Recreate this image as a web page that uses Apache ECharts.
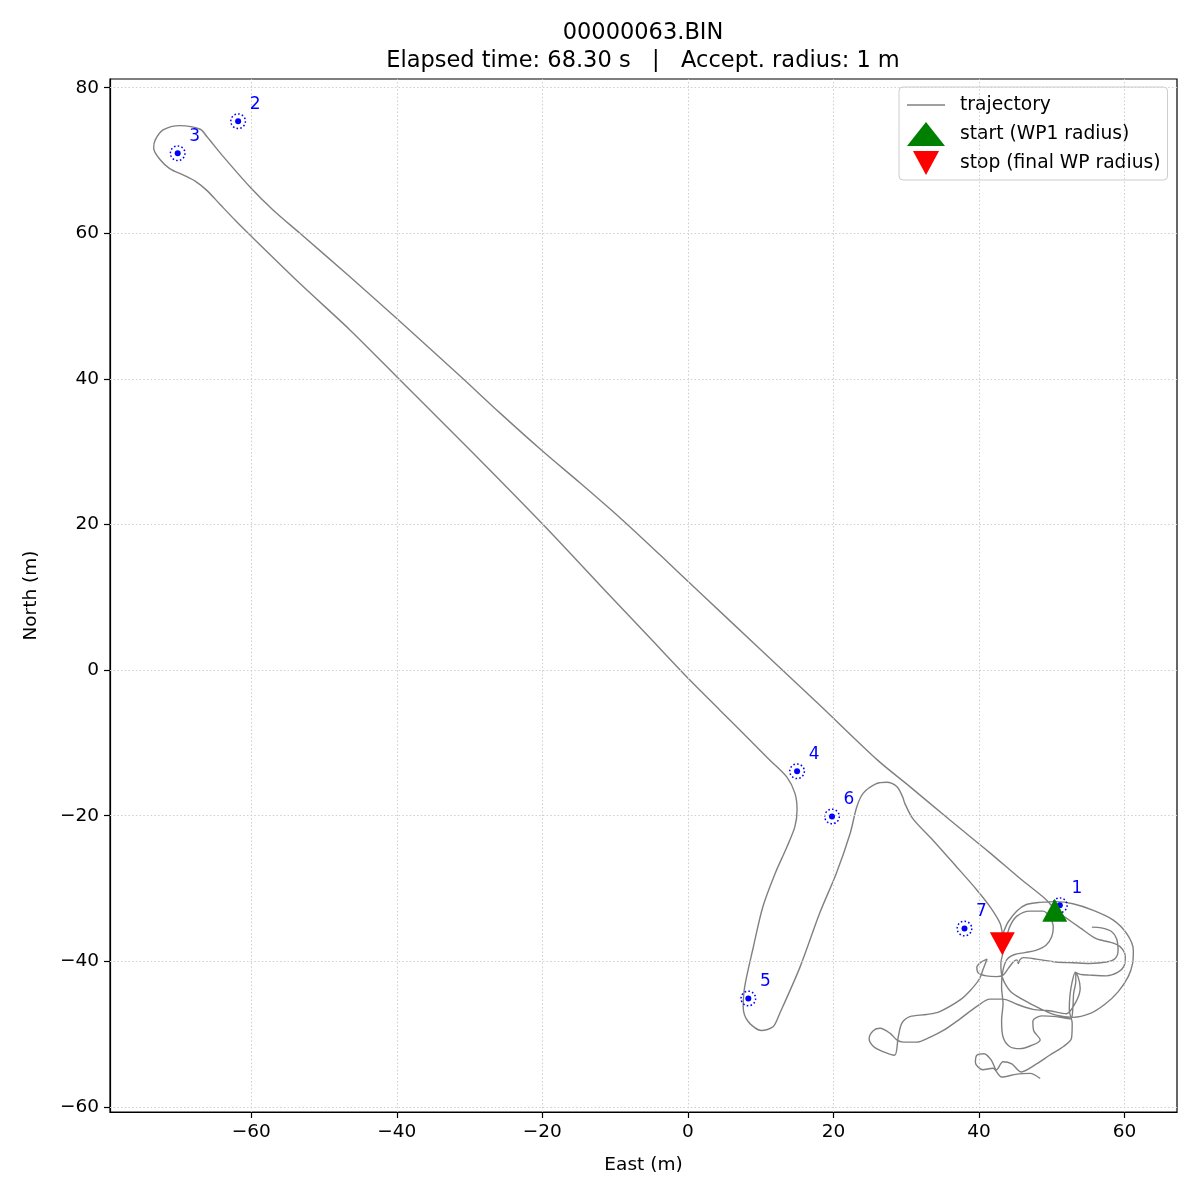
<!DOCTYPE html>
<html>
<head>
<meta charset="utf-8">
<script src="https://cdn.jsdelivr.net/npm/echarts@6/dist/echarts.min.js"></script>
<style>
  html, body { margin: 0; padding: 0; background: #fff; }
  #chart { width: 1200px; height: 1200px; }
</style>
</head>
<body>
<div id="chart"></div>
<script>
// flight log 00000063.BIN, positions in metres (east, north)

// tangle before reaching WP1 (takeoff / wandering)
var trajPre = [
  [55.5,-35.3],[56.8,-35.4],[58.2,-35.9],[58.9,-36.9],[59.1,-38.5],[58.7,-39.6],[57.5,-40.1],
  [55.2,-40.3],[52.9,-40.2],[50.6,-40.1],[47.9,-39.7],[46.1,-39.5],[45.6,-39.8],[45.4,-40.3],
  [45.2,-39.8],[44.7,-40.1],[44.0,-41.0],[43.3,-41.9],[42.4,-42.1],[41.0,-42.0],[39.9,-41.6],
  [39.7,-40.8],[40.3,-40.1],[41.1,-39.7],[40.6,-41.0],[40.0,-42.5],[38.8,-44.0],[37.4,-45.3],
  [34.6,-46.9],[32.8,-47.3],[30.5,-47.6],[29.4,-48.5],[28.9,-50.4],[28.4,-52.9],[26.8,-52.4],
  [25.5,-51.7],[24.9,-50.6],[25.5,-49.5],[26.4,-49.2],[27.8,-49.9],[28.7,-50.8],[29.6,-51.1],
  [31.4,-51.1],[33.3,-50.4],[35.1,-49.5],[37.4,-47.9],[39.7,-46.2],[41.5,-45.2],[43.3,-45.2],
  [45.2,-45.9],[47.4,-46.6],[49.7,-46.8],[52.0,-47.2],[53.3,-45.6],[53.9,-43.7],[53.6,-42.1],
  [53.2,-41.5],[53.9,-41.8],[55.2,-41.9],[57.5,-42.0],[59.1,-41.5],[59.9,-40.7],[60.1,-39.4],
  [59.4,-38.0],[58.1,-37.4],[56.1,-36.9],[53.9,-35.4],[51.9,-34.0],[50.6,-33.1]
];

// WP1 -> WP2/3 -> WP4 -> WP5 -> WP6 -> WP7
var trajMission = [
  [49.3,-31.6],[45.6,-28.6],[41.5,-25.1],[36.0,-20.6],[30.5,-16.0],[26.1,-12.4],[18.1,-4.8],
  [9.9,2.9],[1.6,10.7],[-3.8,15.8],[-9.3,20.9],[-14.8,25.7],[-20.1,30.2],[-25.8,35.3],
  [-31.3,40.4],[-40.0,48.3],[-46.4,54.0],[-53.3,60.0],[-57.0,63.2],[-60.2,66.4],[-63.8,70.5],
  [-66.1,73.3],[-67.0,74.3],[-69.8,74.8],[-72.1,74.2],[-73.2,72.8],[-73.4,71.7],[-72.5,70.1],
  [-71.2,68.9],[-69.3,68.0],[-67.6,67.1],[-66.1,65.9],[-64.3,64.0],[-62.2,61.8],[-60.2,59.8],
  [-53.3,53.1],[-46.4,46.7],[-40.0,40.3],[-29.9,30.2],[-20.1,20.2],[-12.1,11.7],[-5.2,4.4],
  [0.3,-1.4],[4.4,-5.5],[8.5,-9.6],[11.3,-12.4],[13.6,-14.7],[14.7,-16.9],[15.0,-19.2],
  [14.7,-21.5],[13.6,-24.3],[12.0,-27.9],[10.3,-32.5],[9.0,-38.0],[7.8,-43.5],[7.6,-46.3],
  [8.3,-48.3],[10.1,-49.5],[11.7,-49.0],[12.6,-47.2],[15.4,-40.8],[18.1,-33.4],[20.4,-27.9],
  [22.3,-22.4],[23.2,-18.8],[24.1,-16.9],[25.9,-15.6],[27.3,-15.4],[28.7,-16.0],[29.5,-17.4],
  [29.8,-18.3],[30.9,-20.4],[33.7,-23.4],[36.9,-27.0],[39.7,-30.2],[41.5,-32.5],[42.9,-34.8],
  [43.3,-36.4]
];

// after the final WP
var trajPost = [
  [43.4,-35.9],[44.0,-34.6],[45.2,-33.1],[46.5,-32.2],[48.4,-31.9],[50.6,-31.8],[52.9,-32.1],
  [55.7,-33.0],[58.4,-34.3],[60.3,-36.2],[61.2,-38.5],[61.1,-40.3],[60.5,-42.1],[59.1,-44.2],
  [57.3,-45.9],[55.2,-47.2],[52.9,-47.7],[50.6,-47.4],[48.4,-46.5],[46.1,-45.3],[44.3,-44.1],
  [43.2,-42.2],[43.0,-40.3],[43.3,-38.8],[43.7,-37.1],[44.2,-35.3],[45.2,-33.8],[47.0,-33.1],
  [48.8,-33.1],[49.7,-33.9],[50.2,-35.3],[50.0,-36.6],[49.2,-37.8],[47.8,-38.5],[46.3,-38.8],
  [44.8,-39.1],[43.8,-39.8],[43.2,-41.7],[43.1,-43.7],[43.3,-45.8],[43.1,-48.1],[43.3,-50.4],
  [44.2,-51.7],[45.6,-52.0],[47.1,-51.6],[48.4,-50.8],[47.5,-49.5],[47.4,-48.2],[48.6,-47.5],
  [50.6,-47.6],[52.6,-47.9],[52.9,-46.2],[53.0,-44.4],[53.3,-42.7],[53.2,-41.5],[52.8,-42.8],
  [52.5,-44.6],[52.4,-46.7],[52.8,-48.5],[52.7,-50.6],[51.6,-51.7],[49.7,-52.9],[47.9,-54.1],
  [45.8,-55.2],[44.5,-54.1],[43.3,-53.8],[42.4,-54.9],[41.7,-53.6],[40.7,-52.7],[39.7,-52.9],
  [39.5,-53.9],[40.5,-54.9],[41.9,-54.7],[43.1,-55.9],[45.2,-55.5],[47.0,-55.4],[48.4,-56.1]
];

var wpLabels = ['1', '2', '3', '4', '5', '6', '7'];
var wpEast   = [51.1, -61.8, -70.1, 15.0, 8.3, 19.8, 38.0];
var wpNorth  = [-32.3, 75.4, 71.0, -13.9, -45.1, -20.1, -35.5];

var startPos = [50.4, -33.0];
var stopPos  = [43.2, -37.6];

var xTicks = [-60, -40, -20, 0, 20, 40, 60];
var yTicks = [-60, -40, -20, 0, 20, 40, 60, 80];

var FONT = 'DejaVu Sans';

function minus(v) {
  return String(v).replace('-', '\u2212');
}

var traj = trajPre.concat(trajMission, trajPost);

var wpData = [];
for (var i = 0; i < wpLabels.length; i++) {
  wpData.push({ name: wpLabels[i], value: [wpEast[i], wpNorth[i]] });
}

var gridLines = [];
for (var a = 0; a < xTicks.length; a++) gridLines.push({ xAxis: xTicks[a] });
for (var b = 0; b < yTicks.length; b++) gridLines.push({ yAxis: yTicks[b] });

var myChart = echarts.init(document.getElementById('chart'), null, { renderer: 'canvas' });

var option = {
  backgroundColor: '#ffffff',
  animation: false,
  textStyle: { fontFamily: FONT },
  title: {
    text: '00000063.BIN\nElapsed time: 68.30 s   |   Accept. radius: 1 m',
    left: 643,
    textAlign: 'center',
    top: 19,
    padding: 0,
    textStyle: { fontFamily: FONT, fontSize: 22.5, fontWeight: 'normal', color: '#000', lineHeight: 28 }
  },
  legend: {
    data: [
      { name: 'trajectory', icon: 'path://M0,0L40,0L40,1.4L0,1.4Z' },
      { name: 'start (WP1 radius)' },
      { name: 'stop (final WP radius)' }
    ],
    orient: 'vertical',
    left: 899,
    top: 87,
    padding: [6, 7, 5, 8],
    itemWidth: 38,
    itemHeight: 24,
    itemGap: 5,
    backgroundColor: 'rgba(255,255,255,0.8)',
    borderColor: '#cccccc',
    borderWidth: 1,
    borderRadius: 4,
    textStyle: { fontFamily: FONT, fontSize: 18.7, color: '#000', padding: [0, 0, 0, 10], lineHeight: 24 }
  },
  grid: {
    left: 110, right: 23, top: 79, bottom: 88,
    show: true, borderColor: '#000', borderWidth: 1.2, backgroundColor: 'transparent'
  },
  xAxis: {
    type: 'value',
    min: -79.4, max: 67.2,
    name: 'East (m)', nameLocation: 'middle', nameGap: 44,
    nameTextStyle: { fontFamily: FONT, fontSize: 18.5, color: '#000' },
    axisLine: { show: true, onZero: false, lineStyle: { color: '#000', width: 1.2 } },
    axisTick: { show: true, length: 6, customValues: xTicks, lineStyle: { color: '#000', width: 1.2 } },
    axisLabel: { customValues: xTicks, margin: 11, fontFamily: FONT, fontSize: 18.5, color: '#000', formatter: minus },
    splitLine: { show: false }
  },
  yAxis: {
    type: 'value',
    min: -60.7, max: 81.2,
    name: 'North (m)', nameLocation: 'middle', nameGap: 69, nameRotate: 90,
    nameTextStyle: { fontFamily: FONT, fontSize: 18.5, color: '#000' },
    axisLine: { show: true, onZero: false, lineStyle: { color: '#000', width: 1.2 } },
    axisTick: { show: true, length: 6, customValues: yTicks, lineStyle: { color: '#000', width: 1.2 } },
    axisLabel: { customValues: yTicks, margin: 11, fontFamily: FONT, fontSize: 18.5, color: '#000', formatter: minus },
    splitLine: { show: false }
  },
  series: [
    {
      name: 'grid',
      type: 'line',
      data: [],
      z: 1,
      silent: true,
      markLine: {
        silent: true,
        symbol: 'none',
        label: { show: false },
        lineStyle: { color: '#cfcfcf', width: 1.1, type: [1.5, 2.2] },
        data: gridLines,
        animation: false
      }
    },
    {
      name: 'trajectory',
      type: 'line',
      data: traj,
      symbol: 'none',
      showSymbol: false,
      smooth: 0.3,
      z: 3,
      lineStyle: { color: '#808080', width: 1.4 },
      itemStyle: { color: '#808080' }
    },
    {
      name: 'wpRing',
      type: 'scatter',
      data: wpData,
      symbol: 'circle',
      symbolSize: 14.6,
      z: 4,
      itemStyle: { color: 'rgba(0,0,0,0)', opacity: 1, borderColor: '#0000ff', borderWidth: 1.5, borderType: [1.6, 2.2] }
    },
    {
      name: 'wp',
      type: 'scatter',
      data: wpData,
      symbol: 'circle',
      symbolSize: 6,
      z: 5,
      itemStyle: { color: '#0000ff', opacity: 1 },
      label: {
        show: true,
        position: 'inside',
        offset: [17, -17],
        formatter: '{b}',
        fontFamily: FONT,
        fontSize: 17,
        color: '#0000ff'
      }
    },
    {
      name: 'start (WP1 radius)',
      type: 'scatter',
      data: [startPos],
      symbol: 'triangle',
      symbolSize: [25, 23],
      z: 6,
      itemStyle: { color: '#008000', opacity: 1 }
    },
    {
      name: 'stop (final WP radius)',
      type: 'scatter',
      data: [stopPos],
      symbol: 'path://M0,0L10,0L5,9.2Z',
      symbolSize: [25, 23],
      z: 6,
      itemStyle: { color: '#ff0000', opacity: 1 }
    }
  ]
};

myChart.setOption(option, true);
</script>
</body>
</html>
